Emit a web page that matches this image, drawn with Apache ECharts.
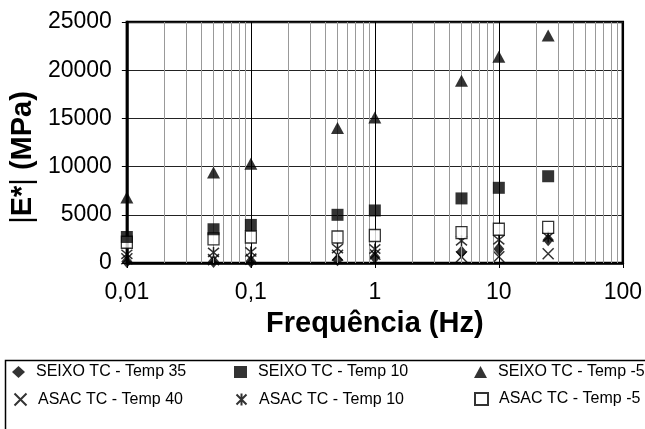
<!DOCTYPE html>
<html>
<head>
<meta charset="utf-8">
<script src="https://cdn.jsdelivr.net/npm/echarts@6/dist/echarts.min.js"></script>
<style>
html,body{margin:0;padding:0;background:#fff;}
#chart{width:645px;height:429px;}
</style>
</head>
<body>
<div id="chart"></div>
<script>
const freqs = [0.01, 0.05, 0.1, 0.5, 1, 5, 10, 25];
const seixo35 = [150, 150, 150, 350, 600, 1150, 1450, 2400];
const seixo10 = [2700, 3500, 3950, 5000, 5450, 6700, 7800, 9000];
const seixoM5 = [6800, 9400, 10300, 14000, 15100, 18900, 21400, 23600];
const asac40 = [450, 350, 400, 800, 900, 650, 650, 950];
const asac10 = [900, 1100, 1150, 1500, 1450, 2300, 2400, 2700];
const asacM5 = [2150, 2500, 2700, 2700, 2850, 3150, 3500, 3700];
const seriesNames = ['SEIXO TC - Temp 35', 'SEIXO TC - Temp 10', 'SEIXO TC - Temp -5',
                     'ASAC TC - Temp 40', 'ASAC TC - Temp 10', 'ASAC TC - Temp -5'];
const minorGrid = [0.02,0.03,0.04,0.05,0.06,0.07,0.08,0.09,
                   0.2,0.3,0.4,0.5,0.6,0.7,0.8,0.9,
                   2,3,4,5,6,7,8,9,
                   20,30,40,50,60,70,80,90];
const xTitle = 'Frequência (Hz)';

const FONT = '"Liberation Sans", Arial, sans-serif';
const pair = arr => freqs.map((f, i) => [f, arr[i]]);
const X_PATH = 'path://M0,0L10,10M0,10L10,0';
const AST_PATH = 'path://M0,0L10,10M0,10L10,0M5,-1L5,11';

const chart = echarts.init(document.getElementById('chart'), null, {renderer: 'canvas'});

function legendAt(name, left, top) {
  return {
    data: [name], left: left, top: top, orient: 'horizontal',
    itemWidth: 13, itemHeight: 12, itemGap: 0, padding: 0,
    textStyle: {fontFamily: FONT, fontSize: 16, color: '#000', padding: [0,0,0,6]},
    selectedMode: false
  };
}

const option = {
  animation: false,
  backgroundColor: '#fff',
  grid: {left: 122, right: 14, top: 22, bottom: 166, show: true, borderColor: '#000', borderWidth: 2.5, containLabel: false},
  xAxis: {
    type: 'log', logBase: 10, min: 0.01, max: 100,
    name: xTitle, nameLocation: 'middle', nameGap: 46,
    nameTextStyle: {fontFamily: FONT, fontSize: 29, fontWeight: 'bold', color: '#000'},
    axisLine: {show: true, onZero: false, lineStyle: {color: '#000', width: 2.5}},
    axisTick: {show: true, length: 5, lineStyle: {color: '#000', width: 1}},
    axisLabel: {fontFamily: FONT, fontSize: 23, color: '#000', margin: 18,
      formatter: v => String(Number(v.toPrecision(6))).replace('.', ',')},
    splitLine: {show: true, lineStyle: {color: '#000', width: 1}},
    minorTick: {show: false}
  },
  yAxis: {
    type: 'value', min: 0, max: 25000, interval: 5000,
    name: '{t||}{b|E*}{t||} {b|(MPa)}', nameLocation: 'middle', nameGap: 86,
    nameTextStyle: {fontFamily: FONT, fontSize: 29, color: '#000', padding: [0, 30, 0, 0],
      rich: {t: {fontFamily: FONT, fontSize: 29, fontWeight: 'normal', color: '#000'},
             b: {fontFamily: FONT, fontSize: 29, fontWeight: 'bold', color: '#000'}}},
    axisLine: {show: true, lineStyle: {color: '#000', width: 2.5}},
    axisTick: {show: true, length: 5, lineStyle: {color: '#000', width: 1}},
    axisLabel: {fontFamily: FONT, fontSize: 23, color: '#000', margin: 15,
      formatter: v => String(v)},
    splitLine: {show: true, lineStyle: {color: '#222', width: 1}}
  },
  legend: [
    legendAt(seriesNames[0], 12, 364),
    legendAt(seriesNames[1], 234, 364),
    legendAt(seriesNames[2], 474, 364),
    legendAt(seriesNames[3], 12, 391),
    legendAt(seriesNames[4], 234, 391),
    legendAt(seriesNames[5], 474, 391)
  ],
  graphic: [{
    type: 'rect', left: 3, top: 358, z: -1,
    shape: {x: 0, y: 0, width: 700, height: 200},
    style: {fill: 'none', stroke: '#000', lineWidth: 1.5}
  }],
  series: [
    {
      name: '_minorgrid', type: 'line', data: [], silent: true,
      markLine: {silent: true, symbol: ['none', 'none'], label: {show: false},
        lineStyle: {color: '#999', type: 'solid', width: 1},
        data: minorGrid.map(v => ({xAxis: v}))}, z: 1
    },
    {name: seriesNames[0], type: 'scatter', data: pair(seixo35), symbol: 'diamond', symbolSize: [11, 13],
      itemStyle: {color: '#000'}, z: 3},
    {name: seriesNames[3], type: 'scatter', data: pair(asac40), symbol: X_PATH, symbolSize: 11,
      itemStyle: {color: 'none', borderColor: '#000', borderWidth: 1.5}, z: 4},
    {name: seriesNames[4], type: 'scatter', data: pair(asac10), symbol: AST_PATH, symbolSize: 11,
      itemStyle: {color: 'none', borderColor: '#000', borderWidth: 1.5}, z: 5},
    {name: seriesNames[5], type: 'scatter', data: pair(asacM5), symbol: 'rect', symbolSize: [11, 12],
      itemStyle: {color: '#fff', borderColor: '#000', borderWidth: 1.3}, z: 6},
    {name: seriesNames[1], type: 'scatter', data: pair(seixo10), symbol: 'rect', symbolSize: [12, 12],
      itemStyle: {color: '#000'}, z: 7},
    {name: seriesNames[2], type: 'scatter', data: pair(seixoM5), symbol: 'triangle', symbolSize: [13, 12],
      itemStyle: {color: '#000'}, z: 8}
  ]
};
chart.setOption(option);
</script>
</body>
</html>
